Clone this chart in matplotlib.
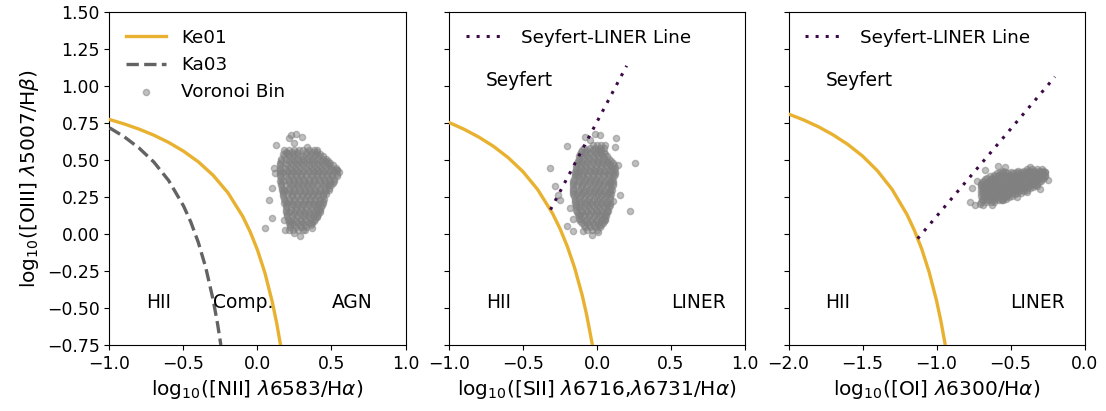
import numpy as np
import matplotlib
matplotlib.use("Agg")
import matplotlib.pyplot as plt

plt.rcParams['font.family'] = ['DejaVu Sans']
plt.rcParams['font.size'] = 12.4
plt.rcParams['xtick.labelsize'] = 12.4
plt.rcParams['ytick.labelsize'] = 12.4
plt.rcParams['axes.labelsize'] = 14.5
plt.rcParams['legend.fontsize'] = 13.2

# ---------------- demarcation curves (sampled) ----------------
ke01_nii_x = [-1.0, -0.9, -0.8, -0.7, -0.6, -0.5, -0.4, -0.3, -0.2, -0.1, -0.05, 0.0, 0.05, 0.1, 0.13, 0.1556]
ke01_nii_y = [0.775, 0.745, 0.710, 0.669, 0.620, 0.561, 0.489, 0.398, 0.280, 0.120, 0.017, -0.108, -0.262, -0.459, -0.604, -0.750]
ka03_x = [-1.0, -0.9, -0.8, -0.7, -0.6, -0.5, -0.45, -0.4, -0.35, -0.3, -0.27, -0.2476]
ka03_y = [0.719, 0.658, 0.582, 0.487, 0.362, 0.191, 0.080, -0.056, -0.225, -0.443, -0.606, -0.750]
ke01_sii_x = [-1.0, -0.9, -0.8, -0.7, -0.6, -0.5, -0.4, -0.3, -0.25, -0.2, -0.15, -0.1, -0.07, -0.031]
ke01_sii_y = [0.755, 0.710, 0.657, 0.594, 0.517, 0.422, 0.300, 0.139, 0.037, -0.085, -0.232, -0.414, -0.546, -0.751]
sl_sii_x = [-0.3147, 0.2]
sl_sii_y = [0.165, 1.138]
ke01_oi_x = [-2.0, -1.9, -1.8, -1.7, -1.6, -1.5, -1.4, -1.3, -1.2, -1.15, -1.1, -1.05, -1.0, -0.97, -0.941]
ke01_oi_y = [0.812, 0.773, 0.727, 0.672, 0.607, 0.528, 0.429, 0.302, 0.133, 0.026, -0.101, -0.257, -0.450, -0.591, -0.750]
sl_oi_x = [-1.128, -0.2]
sl_oi_y = [-0.031, 1.064]

# ---------------- Voronoi bins, [NII] panel ----------------
nii_rows = [
    (0.57, [0.18, 0.215, 0.25, 0.28, 0.31, 0.345, 0.38, 0.40]),
    (0.555, [0.19, 0.23, 0.265, 0.33, 0.365, 0.40]),
    (0.54, [0.17, 0.205, 0.24, 0.27, 0.325, 0.36, 0.395, 0.42]),
    (0.525, [0.18, 0.215, 0.25, 0.285, 0.31, 0.345, 0.38, 0.415, 0.44]),
    (0.51, [0.16, 0.195, 0.23, 0.265, 0.30, 0.335, 0.37, 0.405, 0.44, 0.46]),
    (0.495, [0.16, 0.21, 0.245, 0.28, 0.315, 0.35, 0.385, 0.42, 0.455, 0.475]),
    (0.48, [0.155, 0.19, 0.225, 0.26, 0.295, 0.33, 0.365, 0.40, 0.435, 0.47, 0.49]),
    (0.465, [0.155, 0.20, 0.24, 0.275, 0.31, 0.345, 0.38, 0.415, 0.45, 0.485, 0.51]),
    (0.45, [0.15, 0.185, 0.22, 0.255, 0.29, 0.325, 0.36, 0.395, 0.43, 0.465, 0.50, 0.53]),
    (0.435, [0.15, 0.20, 0.235, 0.27, 0.305, 0.34, 0.375, 0.41, 0.445, 0.48, 0.515, 0.54]),
    (0.42, [0.15, 0.17, 0.205, 0.24, 0.275, 0.31, 0.345, 0.38, 0.415, 0.45, 0.485, 0.52, 0.55]),
    (0.405, [0.155, 0.19, 0.225, 0.26, 0.295, 0.33, 0.365, 0.40, 0.435, 0.47, 0.505, 0.535]),
    (0.39, [0.155, 0.19, 0.225, 0.26, 0.295, 0.33, 0.365, 0.40, 0.435, 0.47, 0.505, 0.54]),
    (0.375, [0.16, 0.205, 0.24, 0.275, 0.31, 0.345, 0.38, 0.415, 0.45, 0.485, 0.52]),
    (0.36, [0.155, 0.175, 0.21, 0.245, 0.28, 0.315, 0.35, 0.385, 0.42, 0.455, 0.49, 0.52]),
    (0.345, [0.16, 0.21, 0.245, 0.28, 0.315, 0.35, 0.385, 0.42, 0.455, 0.49, 0.51]),
    (0.33, [0.16, 0.195, 0.23, 0.265, 0.30, 0.335, 0.37, 0.405, 0.44, 0.475, 0.50]),
    (0.315, [0.165, 0.21, 0.245, 0.28, 0.315, 0.35, 0.385, 0.42, 0.455, 0.485]),
    (0.30, [0.165, 0.18, 0.215, 0.25, 0.285, 0.32, 0.355, 0.39, 0.425, 0.46, 0.48]),
    (0.285, [0.17, 0.215, 0.25, 0.285, 0.32, 0.355, 0.39, 0.425, 0.455]),
    (0.27, [0.17, 0.20, 0.235, 0.27, 0.305, 0.34, 0.375, 0.41, 0.445, 0.46]),
    (0.255, [0.175, 0.23, 0.265, 0.30, 0.335, 0.37, 0.405, 0.44]),
    (0.24, [0.18, 0.215, 0.25, 0.285, 0.32, 0.355, 0.39, 0.425, 0.45]),
    (0.225, [0.185, 0.215, 0.25, 0.285, 0.32, 0.355, 0.39, 0.425, 0.445]),
    (0.21, [0.18, 0.20, 0.235, 0.27, 0.305, 0.34, 0.375, 0.41, 0.44]),
    (0.195, [0.19, 0.24, 0.275, 0.31, 0.345, 0.38, 0.415, 0.435]),
    (0.18, [0.19, 0.225, 0.26, 0.295, 0.33, 0.365, 0.40, 0.43]),
    (0.165, [0.19, 0.225, 0.26, 0.295, 0.33, 0.365, 0.40, 0.425]),
    (0.15, [0.19, 0.21, 0.245, 0.28, 0.315, 0.35, 0.385, 0.42]),
    (0.135, [0.20, 0.25, 0.285, 0.32, 0.355, 0.39, 0.41]),
    (0.12, [0.20, 0.235, 0.27, 0.305, 0.34, 0.375, 0.40]),
    (0.105, [0.205, 0.25, 0.285, 0.32, 0.355, 0.39]),
    (0.09, [0.21, 0.225, 0.26, 0.295, 0.33, 0.365, 0.38]),
    (0.075, [0.215, 0.24, 0.275, 0.31, 0.345, 0.37]),
    (0.06, [0.22, 0.25, 0.285, 0.32, 0.36]),
    (0.045, [0.22, 0.26, 0.295, 0.33]),
    (0.03, [0.21, 0.24, 0.275, 0.31]),
]
nii_extra_x = [0.223, 0.257, 0.302, 0.212, 0.246, 0.122, 0.335, 0.200, 0.110, 0.121, 0.099, 0.076,
               0.099, 0.054, 0.178, 0.189, 0.246, 0.290, 0.324, 0.369, 0.403, 0.414, 0.538]
nii_extra_y = [0.671, 0.678, 0.660, 0.648, 0.615, 0.603, 0.588, 0.547, 0.446, 0.412, 0.311, 0.232,
               0.108, 0.040, 0.097, 0.029, 0.007, -0.011, 0.029, 0.040, 0.119, 0.164, 0.435]

# ---------------- Voronoi bins, [SII] panel ----------------
sii_rows = [
    (0.60, [-0.03, 0.00, 0.03, 0.055]),
    (0.585, [-0.085, -0.05, -0.015, 0.02, 0.045]),
    (0.57, [-0.10, -0.065, -0.03, 0.005, 0.03]),
    (0.555, [-0.11, -0.08, -0.045, -0.01, 0.02, 0.045]),
    (0.54, [-0.115, -0.08, -0.045, -0.01, 0.025, 0.055]),
    (0.525, [-0.12, -0.10, -0.065, -0.03, 0.005, 0.04, 0.065]),
    (0.51, [-0.125, -0.09, -0.055, -0.02, 0.015, 0.05, 0.08]),
    (0.495, [-0.13, -0.105, -0.07, -0.035, 0.0, 0.035, 0.065, 0.095]),
    (0.48, [-0.135, -0.10, -0.065, -0.03, 0.005, 0.04, 0.075, 0.11]),
    (0.465, [-0.14, -0.115, -0.08, -0.045, -0.01, 0.025, 0.06, 0.09, 0.115]),
    (0.45, [-0.14, -0.11, -0.075, -0.04, -0.005, 0.03, 0.065, 0.10, 0.12]),
    (0.435, [-0.145, -0.125, -0.09, -0.055, -0.02, 0.015, 0.05, 0.085, 0.115]),
    (0.42, [-0.15, -0.12, -0.085, -0.05, -0.015, 0.02, 0.055, 0.09, 0.12]),
    (0.405, [-0.15, -0.135, -0.10, -0.065, -0.03, 0.005, 0.04, 0.075, 0.105, 0.12]),
    (0.39, [-0.15, -0.13, -0.095, -0.06, -0.025, 0.01, 0.045, 0.08, 0.115]),
    (0.375, [-0.155, -0.11, -0.075, -0.04, -0.005, 0.03, 0.065, 0.10]),
    (0.36, [-0.16, -0.125, -0.09, -0.055, -0.02, 0.015, 0.05, 0.085, 0.11]),
    (0.345, [-0.16, -0.12, -0.085, -0.05, -0.015, 0.02, 0.055, 0.09, 0.11]),
    (0.33, [-0.16, -0.135, -0.10, -0.065, -0.03, 0.005, 0.04, 0.075, 0.105]),
    (0.315, [-0.16, -0.11, -0.075, -0.04, -0.005, 0.03, 0.065, 0.095]),
    (0.30, [-0.16, -0.125, -0.09, -0.055, -0.02, 0.015, 0.05, 0.085, 0.10]),
    (0.285, [-0.16, -0.12, -0.085, -0.05, -0.015, 0.02, 0.055, 0.09]),
    (0.27, [-0.16, -0.135, -0.10, -0.065, -0.03, 0.005, 0.04, 0.075, 0.095]),
    (0.255, [-0.155, -0.115, -0.08, -0.045, -0.01, 0.025, 0.06, 0.09]),
    (0.24, [-0.15, -0.125, -0.09, -0.055, -0.02, 0.015, 0.05, 0.085]),
    (0.225, [-0.15, -0.105, -0.07, -0.035, 0.0, 0.035, 0.07]),
    (0.21, [-0.15, -0.115, -0.08, -0.045, -0.01, 0.025, 0.06, 0.085]),
    (0.195, [-0.145, -0.105, -0.07, -0.035, 0.0, 0.035, 0.07, 0.085]),
    (0.18, [-0.14, -0.125, -0.09, -0.055, -0.02, 0.015, 0.05, 0.08]),
    (0.165, [-0.14, -0.11, -0.075, -0.04, -0.005, 0.03, 0.065]),
    (0.15, [-0.135, -0.10, -0.065, -0.03, 0.005, 0.04, 0.07]),
    (0.135, [-0.13, -0.115, -0.08, -0.045, -0.01, 0.025, 0.06]),
    (0.12, [-0.125, -0.09, -0.055, -0.02, 0.015, 0.05, 0.06]),
    (0.105, [-0.12, -0.105, -0.07, -0.035, 0.0, 0.035, 0.055]),
    (0.09, [-0.115, -0.08, -0.045, -0.01, 0.025, 0.05]),
    (0.075, [-0.10, -0.065, -0.03, 0.005, 0.04]),
    (0.06, [-0.09, -0.055, -0.02, 0.015, 0.03]),
    (0.045, [-0.08, -0.05, -0.015, 0.02]),
    (0.03, [-0.07, -0.035, 0.0]),
]
sii_extra_x = [-0.081, -0.014, 0.020, -0.047, 0.122, 0.128, -0.205, -0.318, -0.284, -0.261, -0.250, -0.182,
               -0.160, -0.205, -0.160, -0.092, -0.036, 0.009, 0.088, 0.110, 0.155, 0.223, 0.257, 0.144,
               0.054, 0.077]
sii_extra_y = [0.660, 0.678, 0.671, 0.637, 0.592, 0.648, 0.597, 0.446, 0.322, 0.266, 0.232, 0.175,
               0.101, 0.056, 0.022, 0.018, -0.009, 0.011, 0.344, 0.221, 0.266, 0.153, 0.484, 0.468,
               0.097, 0.153]

# ---------------- Voronoi bins, [OI] panel ----------------
oi_rows = [
    (0.44, [-0.39, -0.355, -0.32, -0.29]),
    (0.43, [-0.55, -0.45, -0.41, -0.375, -0.34, -0.305, -0.28]),
    (0.42, [-0.57, -0.535, -0.50, -0.465, -0.43, -0.395, -0.36, -0.325, -0.29, -0.27]),
    (0.41, [-0.59, -0.555, -0.52, -0.485, -0.45, -0.415, -0.38, -0.345, -0.31, -0.28]),
    (0.40, [-0.61, -0.575, -0.54, -0.505, -0.47, -0.435, -0.40, -0.365, -0.33, -0.295, -0.265]),
    (0.39, [-0.64, -0.605, -0.57, -0.535, -0.50, -0.465, -0.43, -0.395, -0.36, -0.325, -0.29, -0.27]),
    (0.38, [-0.66, -0.625, -0.59, -0.555, -0.52, -0.485, -0.45, -0.415, -0.38, -0.345, -0.31, -0.275]),
    (0.37, [-0.67, -0.63, -0.595, -0.56, -0.525, -0.49, -0.455, -0.42, -0.385, -0.35, -0.315, -0.285]),
    (0.36, [-0.68, -0.645, -0.61, -0.575, -0.54, -0.505, -0.47, -0.435, -0.40, -0.365, -0.33, -0.295]),
    (0.35, [-0.69, -0.65, -0.615, -0.58, -0.545, -0.51, -0.475, -0.44, -0.405, -0.37, -0.335, -0.305]),
    (0.34, [-0.70, -0.665, -0.63, -0.595, -0.56, -0.525, -0.49, -0.455, -0.42, -0.385, -0.35, -0.32]),
    (0.33, [-0.70, -0.68, -0.645, -0.61, -0.575, -0.54, -0.505, -0.47, -0.435, -0.40, -0.365, -0.335]),
    (0.32, [-0.70, -0.665, -0.63, -0.595, -0.56, -0.525, -0.49, -0.455, -0.42, -0.385, -0.35]),
    (0.31, [-0.685, -0.65, -0.615, -0.58, -0.545, -0.51, -0.475, -0.44, -0.405, -0.37]),
    (0.30, [-0.70, -0.665, -0.63, -0.595, -0.56, -0.525, -0.49, -0.455, -0.42, -0.39]),
    (0.29, [-0.685, -0.65, -0.615, -0.58, -0.545, -0.51, -0.475, -0.44, -0.41]),
    (0.28, [-0.70, -0.665, -0.63, -0.595, -0.56, -0.525, -0.49, -0.455, -0.43]),
    (0.27, [-0.685, -0.65, -0.615, -0.58, -0.545, -0.51, -0.47]),
    (0.26, [-0.70, -0.665, -0.63, -0.595, -0.56, -0.525, -0.49]),
    (0.25, [-0.68, -0.645, -0.61, -0.575, -0.54, -0.51]),
    (0.24, [-0.695, -0.66, -0.625, -0.59, -0.555, -0.53]),
    (0.23, [-0.685, -0.65, -0.615, -0.58, -0.56]),
    (0.22, [-0.70, -0.665, -0.63, -0.61]),
]
oi_extra_x = [-0.774, -0.740, -0.706, -0.729, -0.762, -0.672, -0.582, -0.537, -0.368, -0.244, -0.301,
              -0.684, -0.627, -0.548, -0.458, -0.391, -0.323, -0.267]
oi_extra_y = [0.214, 0.198, 0.205, 0.356, 0.311, 0.434, 0.462, 0.457, 0.453, 0.367, 0.304,
              0.198, 0.198, 0.232, 0.250, 0.288, 0.322, 0.423]


def flatten(rows, ex, ey):
    xs, ys = [], []
    for yv, xl in rows:
        for xv in xl:
            xs.append(xv)
            ys.append(yv)
    return np.array(xs + ex), np.array(ys + ey)


nii_x, nii_y = flatten(nii_rows, nii_extra_x, nii_extra_y)
sii_x, sii_y = flatten(sii_rows, sii_extra_x, sii_extra_y)
oi_x, oi_y = flatten(oi_rows, oi_extra_x, oi_extra_y)

# ---------------- styles ----------------
c_ke = '#e9b130'
c_ka = '#636363'
c_sl = '#3c0a46'
pt_kw = dict(s=20, c='grey', alpha=0.5, zorder=2)
lw = 2.4
dot_ls = (0, (1, 2.3))
txt_fs = 13.4
hl = 2.2

fig, axes = plt.subplots(1, 3, sharey=True, figsize=(11.06, 4.11), dpi=100)
fig.subplots_adjust(left=0.099, right=0.9806, bottom=0.1606, top=0.970, wspace=0.147)

ax = axes[0]
ax.plot(ke01_nii_x, ke01_nii_y, color=c_ke, lw=lw, label='Ke01', zorder=3)
ax.plot(ka03_x, ka03_y, color=c_ka, lw=lw, ls='--', label='Ka03', zorder=3)
ax.scatter(nii_x, nii_y, label='Voronoi Bin', **pt_kw)
ax.set_xlim(-1.0, 1.0)
ax.set_ylim(-0.75, 1.5)
ax.set_xticks([-1.0, -0.5, 0.0, 0.5, 1.0])
ax.set_yticks([-0.75, -0.5, -0.25, 0.0, 0.25, 0.5, 0.75, 1.0, 1.25, 1.5])
ax.set_xlabel(r'log$_{10}$([NII] $\lambda$6583/H$\alpha$)')
ax.set_ylabel(r'log$_{10}$([OIII] $\lambda$5007/H$\beta$)')
ax.text(-0.75, -0.5, 'HII', fontsize=txt_fs)
ax.text(-0.3, -0.5, 'Comp.', fontsize=txt_fs)
ax.text(0.5, -0.5, 'AGN', fontsize=txt_fs)
ax.legend(loc='upper left', frameon=False, handlelength=hl)

ax = axes[1]
ax.plot(ke01_sii_x, ke01_sii_y, color=c_ke, lw=lw, zorder=3)
ax.plot(sl_sii_x, sl_sii_y, color=c_sl, lw=2.2, ls=dot_ls, label='Seyfert-LINER Line', zorder=3)
ax.scatter(sii_x, sii_y, **pt_kw)
ax.set_xlim(-1.0, 1.0)
ax.set_xticks([-1.0, -0.5, 0.0, 0.5, 1.0])
ax.set_xlabel(r'log$_{10}$([SII] $\lambda$6716,$\lambda$6731/H$\alpha$)')
ax.text(-0.75, 1.0, 'Seyfert', fontsize=txt_fs)
ax.text(-0.75, -0.5, 'HII', fontsize=txt_fs)
ax.text(0.5, -0.5, 'LINER', fontsize=txt_fs)
ax.legend(loc='upper left', frameon=False, handlelength=hl)

ax = axes[2]
ax.plot(ke01_oi_x, ke01_oi_y, color=c_ke, lw=lw, zorder=3)
ax.plot(sl_oi_x, sl_oi_y, color=c_sl, lw=2.2, ls=dot_ls, label='Seyfert-LINER Line', zorder=3)
ax.scatter(oi_x, oi_y, **pt_kw)
ax.set_xlim(-2.0, 0.0)
ax.set_xticks([-2.0, -1.5, -1.0, -0.5, 0.0])
ax.set_xlabel(r'log$_{10}$([OI] $\lambda$6300/H$\alpha$)')
ax.text(-1.75, 1.0, 'Seyfert', fontsize=txt_fs)
ax.text(-1.75, -0.5, 'HII', fontsize=txt_fs)
ax.text(-0.5, -0.5, 'LINER', fontsize=txt_fs)
ax.legend(loc='upper left', frameon=False, handlelength=hl)

fig.savefig('out.png', dpi=100)
